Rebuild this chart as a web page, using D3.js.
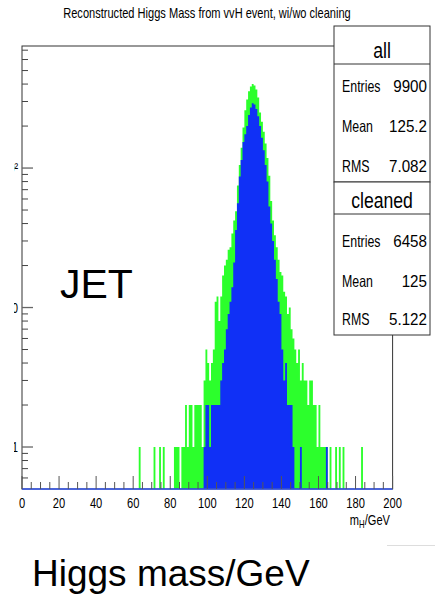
<!DOCTYPE html>
<html>
  <head>
    <meta charset="utf-8">
    <title>Reconstructed Higgs Mass</title>
    <script src="https://cdn.jsdelivr.net/npm/d3@7"></script>
    <style>
      body { margin: 0; padding: 0; background: #ffffff; }
      svg { display: block; }
      text { font-family: "Liberation Sans", Arial, Helvetica, sans-serif; fill: #000; }
    </style>
  </head>
  <body>
    <div id="chart"></div>
    <script>
      // histogram bins, 1 GeV wide, first bin starts at binStart
      var binStart = 60;
      var allCounts = [
        0, 0, 0, 1, 0, 0, 0, 0, 0, 0,          // 60-69
        0, 1, 0, 0, 1, 0, 1, 0, 0, 0,          // 70-79
        0, 0, 1, 1, 1, 0, 1, 1, 2, 1,          // 80-89
        2, 2, 1, 2, 2, 2, 2, 1, 3, 5,          // 90-99
        4, 3, 4, 5, 11, 12, 8, 12, 17, 20,     // 100-109
        22, 26, 27, 34, 42, 49, 75, 105, 140, 195,        // 110-119
        260, 310, 355, 385, 400, 390, 365, 320, 250, 215, // 120-129
        182, 150, 118, 88, 58, 42, 33, 27, 22, 18,        // 130-139
        17, 13, 12, 9, 10, 7, 6, 5, 4, 5,      // 140-149
        3, 4, 3, 3, 2, 3, 3, 2, 2, 1,          // 150-159
        2, 1, 1, 1, 1, 0, 1, 0, 0, 1,          // 160-169
        0, 1, 0, 1, 0, 0, 0, 0, 0, 0,          // 170-179
        0, 0, 0, 1, 0, 0, 0, 0, 0, 0           // 180-189
      ];
      var cleanedCounts = [
        0, 0, 0, 0, 0, 0, 0, 0, 0, 0,          // 60-69
        0, 0, 0, 0, 0, 0, 0, 0, 0, 0,          // 70-79
        0, 0, 0, 0, 0, 0, 0, 0, 0, 0,          // 80-89
        0, 0, 0, 0, 0, 0, 0, 0, 1, 2,          // 90-99
        2, 1, 2, 2, 2, 2, 2, 3, 4, 5,          // 100-109
        7, 9, 11, 14, 21, 36, 56, 87, 114, 154,           // 110-119
        175, 200, 240, 272, 292, 285, 265, 235, 200, 165, // 120-129
        134, 105, 80, 53, 40, 30, 22, 16, 11, 9,          // 130-139
        5, 3, 4, 2, 2, 2, 1, 0, 0, 0,          // 140-149
        1, 0, 0, 0, 0, 0, 0, 0, 0, 0,          // 150-159
        0, 0, 0, 0, 1, 0, 0, 0, 0, 0,          // 160-169
        0, 0, 0, 0, 0, 0, 0, 0, 0, 0,          // 170-179
        0, 0, 0, 0, 0, 0, 0, 0, 0, 0           // 180-189
      ];
      var xTicks = [0, 20, 40, 60, 80, 100, 120, 140, 160, 180, 200];
      var yMajor = [1, 10, 100];
      var yLabels = ["1", "10", "10\u00b2"];
      var statNames = ["Entries", "Mean", "RMS"];
      var allStats = ["9900", "125.2", "7.082"];
      var cleanedStats = ["6458", "125", "5.122"];

      var W = 435, H = 596;
      // note: don't call it "top", that's window.top
      var plotL = 22, plotR = 392.6, plotT = 46, plotB = 489;

      var svg = d3.select("#chart").append("svg")
        .attr("width", W).attr("height", H);
      svg.append("rect").attr("width", W).attr("height", H).attr("fill", "#fff");

      var x = d3.scaleLinear().domain([0, 200]).range([plotL, plotR]);
      var y = d3.scaleLog().domain([0.5, 750]).range([plotB, plotT]);

      // text squeezed horizontally, the ROOT font looks condensed
      function label(parent, tx, ty, str, size, anchor, sx) {
        return parent.append("text")
          .attr("transform", "translate(" + tx + "," + ty + ") scale(" + sx + ",1)")
          .attr("text-anchor", anchor)
          .attr("font-size", size)
          .text(str);
      }

      // one path per histogram so neighbouring bins don't leave seams
      function histPath(counts) {
        var p = d3.path();
        counts.forEach(function (c, i) {
          if (c <= 0) return;
          var m = binStart + i;
          p.rect(x(m), y(c), x(m + 1) - x(m), y(0.5) - y(c));
        });
        return p.toString();
      }

      // green = all events, blue = cleaned, blue drawn on top
      svg.append("path").attr("d", histPath(allCounts)).attr("fill", "#2cff2c");
      svg.append("path").attr("d", histPath(cleanedCounts)).attr("fill", "#1030f6");

      // frame
      svg.append("rect")
        .attr("x", plotL).attr("y", plotT)
        .attr("width", plotR - plotL).attr("height", plotB - plotT)
        .attr("fill", "none").attr("stroke", "#333").attr("stroke-width", 1);
      // blue histogram baseline
      svg.append("line")
        .attr("x1", plotL).attr("x2", plotR).attr("y1", plotB).attr("y2", plotB)
        .attr("stroke", "#3355ee").attr("stroke-width", 1.5);

      // x ticks every 5, long every 20
      var xMinor = d3.range(0, 201, 5);
      svg.append("g").selectAll("line")
        .data(xMinor).enter().append("line")
        .attr("x1", function (d) { return x(d); })
        .attr("x2", function (d) { return x(d); })
        .attr("y1", plotB)
        .attr("y2", function (d) { return d % 20 === 0 ? plotB - 13 : plotB - 7; })
        .attr("stroke", "#555");

      var xl = svg.append("g");
      xTicks.forEach(function (d) {
        label(xl, x(d), 508, d, 15.5, "middle", 0.72);
      });

      // axis title m_H/GeV
      var xt = svg.append("text")
        .attr("transform", "translate(390,525) scale(0.74,1)")
        .attr("text-anchor", "end").attr("font-size", 15);
      xt.append("tspan").text("m");
      xt.append("tspan").attr("font-size", 10.5).attr("dy", 3).text("H");
      xt.append("tspan").attr("dy", -3).text("/GeV");

      // y ticks on log axis
      var yMinor = [0.6, 0.7, 0.8, 0.9];
      [1, 10, 100].forEach(function (dec) {
        for (var k = 2; k <= 9; k++) yMinor.push(dec * k);
      });
      yMinor = yMinor.filter(function (v) { return v < 750; });
      svg.append("g").selectAll("line")
        .data(yMinor).enter().append("line")
        .attr("x1", plotL).attr("x2", plotL + 6)
        .attr("y1", function (d) { return y(d); })
        .attr("y2", function (d) { return y(d); })
        .attr("stroke", "#444");
      svg.append("g").selectAll("line")
        .data(yMajor).enter().append("line")
        .attr("x1", plotL).attr("x2", plotL + 11)
        .attr("y1", function (d) { return y(d); })
        .attr("y2", function (d) { return y(d); })
        .attr("stroke", "#666").attr("stroke-width", 1.3);

      // y labels are cut off at the left edge of the picture
      svg.append("clipPath").attr("id", "ylabclip")
        .append("rect").attr("x", 14).attr("y", 0).attr("width", 10).attr("height", H);
      var yl = svg.append("g").attr("clip-path", "url(#ylabclip)");
      yMajor.forEach(function (d, i) {
        label(yl, 18, y(d) + 5, yLabels[i], 15, "end", 0.72);
      });

      // title
      label(svg, 207, 18, "Reconstructed Higgs Mass from vvH event, wi/wo cleaning", 14, "middle", 0.79);

      // stats boxes
      function statBox(y0, y1, ySep, name, vals, rowY) {
        svg.append("rect").attr("x", 334).attr("y", y0)
          .attr("width", 96).attr("height", y1 - y0)
          .attr("fill", "#fff").attr("stroke", "#333");
        svg.append("line").attr("x1", 334).attr("x2", 430)
          .attr("y1", ySep).attr("y2", ySep).attr("stroke", "#333");
        label(svg, 382, ySep - 6, name, 22, "middle", 0.8);
        statNames.forEach(function (s, i) {
          label(svg, 342, rowY[i], s, 16.5, "start", 0.75);
          label(svg, 427, rowY[i], vals[i], 16.5, "end", 0.92);
        });
      }
      statBox(26, 182, 64, "all", allStats, [92, 131.5, 171.5]);
      statBox(182, 335, 214, "cleaned", cleanedStats, [246.5, 286.5, 325]);

      // slide text on top of the plot
      svg.append("text")
        .attr("x", 60).attr("y", 298).attr("font-size", 41).text("JET");
      svg.append("text")
        .attr("x", 32).attr("y", 586).attr("font-size", 37).text("Higgs mass/GeV");
      svg.append("line").attr("x1", 387).attr("x2", 435)
        .attr("y1", 545.5).attr("y2", 545.5).attr("stroke", "#ddd");
    </script>
  </body>
</html>
